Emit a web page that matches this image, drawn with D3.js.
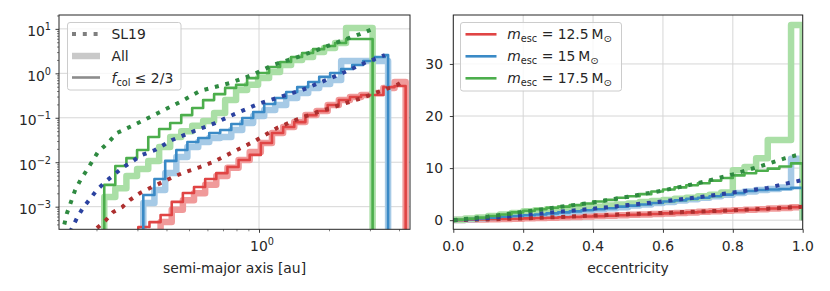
<!DOCTYPE html>
<html>
<head>
<meta charset="utf-8">
<script src="https://cdn.jsdelivr.net/npm/d3@7"></script>
<style>
  body { margin: 0; background: #fff; }
  text { font-family: "DejaVu Sans", sans-serif; fill: #262626; }
</style>
</head>
<body>
<svg id="chart" width="830" height="291"></svg>
<script>
// ---- semi-major axis histograms (left panel), bin edges in au ----
const greenEdges = [0.216, 0.241, 0.269, 0.299, 0.334, 0.372, 0.415, 0.463, 0.516, 0.575, 0.641, 0.715,
  0.797, 0.889, 0.991, 1.105, 1.232, 1.374, 1.532, 1.708, 1.905, 2.124, 2.368, 3.08];
const greenColA = [0.0031, 0.0082, 0.0124, 0.0188, 0.037, 0.056, 0.076, 0.115, 0.166, 0.25, 0.34, 0.47,
  0.55, 0.78, 1.02, 1.39, 1.8, 2.33, 2.86, 3.5, 4.1, 4.8, 5.9];
const greenAllA = [0.00165, 0.0026, 0.0049, 0.007, 0.0107, 0.022, 0.037, 0.05, 0.066, 0.085, 0.128, 0.25,
  0.42, 0.55, 0.78, 1.07, 1.54, 1.99, 2.33, 3.0, 3.7, 4.8, 10.4];

const blueEdges = [0.318, 0.355, 0.395, 0.441, 0.492, 0.548, 0.611, 0.681, 0.760, 0.847, 0.944, 1.053,
  1.174, 1.309, 1.460, 1.628, 1.815, 2.023, 2.256, 2.516, 2.805, 3.128, 3.487, 3.59];
const blueColA = [0.00183, 0.0042, 0.0107, 0.0188, 0.0285, 0.035, 0.0455, 0.053, 0.0724, 0.099, 0.135, 0.204,
  0.278, 0.38, 0.49, 0.64, 0.83, 1.02, 1.25, 1.54, 1.89, 2.33, 2.58];
const blueAllA = [0.00121, 0.00238, 0.0057, 0.0131, 0.022, 0.0285, 0.035, 0.037, 0.053, 0.076, 0.11, 0.15,
  0.194, 0.278, 0.36, 0.467, 0.574, 0.706, 1.9, 1.9, 1.9, 1.9, 1.9];

const redEdges = [0.3027, 0.338, 0.3774, 0.4214, 0.4705, 0.5254, 0.5867, 0.6551, 0.7315, 0.8168, 0.912, 1.0184,
  1.1371, 1.2697, 1.4178, 1.5831, 1.7677, 1.9739, 2.2041, 2.4611, 2.7481, 3.0686, 3.4265, 3.8261, 4.272];
const redColA = [0.00035, 0.00045, 0.00065, 0.00128, 0.00203, 0.00277, 0.0042, 0.0057, 0.0078, 0.0112, 0.0146, 0.0271,
  0.0455, 0.062, 0.08, 0.115, 0.142, 0.194, 0.251, 0.293, 0.325, 0.325, 0.49, 0.52];
const redAllA = [0.00023, 0.00027, 0.00045, 0.00085, 0.0014, 0.002, 0.0031, 0.0049, 0.0075, 0.0112, 0.017, 0.0271,
  0.0455, 0.062, 0.08, 0.115, 0.142, 0.194, 0.251, 0.293, 0.325, 0.36, 0.467, 0.64];

// SL19 curves, semi-major axis
const greenSlAu = [0.142, 0.149, 0.162, 0.1716, 0.182, 0.203, 0.224, 0.245, 0.296, 0.368, 0.457, 0.557, 0.75, 0.933, 1.149, 1.428, 1.776, 2.187, 2.717, 3.06];
const greenSlA = [0.00023, 0.00069, 0.00238, 0.0042, 0.0067, 0.017, 0.0271, 0.0455, 0.0724, 0.128, 0.226, 0.40, 0.605, 0.916, 1.54, 2.21, 3.34, 5.06, 7.65, 9.8];
const blueSlAu = [0.154, 0.165, 0.175, 0.201, 0.218, 0.258, 0.314, 0.357, 0.423, 0.515, 0.647, 0.788, 0.99, 1.231, 1.53, 1.885, 2.34, 2.91, 3.48];
const blueSlA = [0.00027, 0.00056, 0.00094, 0.00238, 0.0036, 0.0074, 0.0146, 0.0188, 0.0316, 0.0479, 0.076, 0.122, 0.204, 0.293, 0.42, 0.66, 1.07, 1.80, 2.58];
const redSlAu = [0.201, 0.218, 0.236, 0.258, 0.279, 0.308, 0.347, 0.386, 0.427, 0.481, 0.557, 0.634, 0.773, 0.961, 1.195, 1.47, 1.794, 2.23, 2.77, 3.42, 3.92, 4.25];
const redSlA = [0.00033, 0.00048, 0.00076, 0.00098, 0.00142, 0.00203, 0.00277, 0.0036, 0.00466, 0.006, 0.0078, 0.0101, 0.017, 0.0301, 0.0589, 0.0938, 0.135, 0.194, 0.278, 0.42, 0.545, 0.706];

// ---- eccentricity histograms (right panel) ----
const eccEdges = [0, 0.0333, 0.0667, 0.1, 0.1333, 0.1667, 0.2, 0.2333, 0.2667, 0.3, 0.3333, 0.3667, 0.4, 0.4333,
  0.4667, 0.5, 0.5333, 0.5667, 0.6, 0.6333, 0.6667, 0.7, 0.7333, 0.7667, 0.8, 0.8333, 0.8667, 0.9, 0.9333, 0.9667, 1];
const greenColE = [0.1, 0.3, 0.5, 0.8, 1.1, 1.5, 1.8, 2.1, 2.4, 2.6, 2.9, 3.2, 3.6, 3.9, 4.3, 4.6, 5.0, 5.5, 5.9, 6.3,
  6.7, 7.1, 7.6, 8.1, 8.6, 9.0, 9.5, 9.9, 10.3, 10.9];
const greenAllE = [0.1, 0.3, 0.5, 0.8, 1.1, 1.4, 1.7, 1.9, 2.1, 2.2, 2.4, 2.6, 2.6, 2.8, 3.0, 3.2, 3.5, 3.7, 3.9, 4.1,
  4.3, 4.6, 4.9, 5.3, 9.6, 10.2, 11.9, 15.4, 15.4, 37.5];
const blueColE = [0.05, 0.2, 0.35, 0.5, 0.65, 0.8, 0.95, 1.1, 1.3, 1.5, 1.7, 1.9, 2.1, 2.3, 2.6, 2.8, 3.0, 3.3, 3.6, 3.8,
  4.1, 4.3, 4.6, 4.9, 5.2, 5.6, 5.8, 5.9, 6.0, 6.2];
const blueAllE = [0.05, 0.2, 0.35, 0.5, 0.65, 0.8, 1.0, 1.15, 1.3, 1.5, 1.7, 1.9, 2.1, 2.3, 2.5, 2.8, 3.0, 3.3, 3.5, 3.8,
  4.0, 4.3, 4.6, 4.9, 5.2, 5.5, 5.8, 6.0, 6.3, 11.8];
const redColE = [0.02, 0.07, 0.12, 0.17, 0.23, 0.29, 0.35, 0.42, 0.48, 0.55, 0.62, 0.7, 0.78, 0.86, 0.94, 1.02, 1.1, 1.2,
  1.3, 1.4, 1.5, 1.6, 1.7, 1.8, 1.9, 2.0, 2.1, 2.25, 2.35, 2.5];
const redAllE = [0.02, 0.07, 0.12, 0.17, 0.23, 0.29, 0.35, 0.42, 0.48, 0.55, 0.62, 0.7, 0.78, 0.86, 0.94, 1.02, 1.1, 1.2,
  1.3, 1.4, 1.5, 1.6, 1.7, 1.8, 1.9, 2.0, 2.1, 2.25, 2.35, 2.5];

const slEcc = [0, 0.1, 0.2, 0.3, 0.4, 0.5, 0.6, 0.7, 0.8, 0.9, 0.95, 1.0];
const greenSlE = [0, 0.7, 1.6, 2.5, 3.4, 4.5, 5.7, 7.1, 8.8, 10.8, 11.9, 12.8];
const blueSlE = [0, 0.4, 1.0, 1.6, 2.2, 2.9, 3.6, 4.4, 5.3, 6.2, 7.0, 7.7];
const redSlE = [0, 0.15, 0.35, 0.6, 0.88, 1.15, 1.4, 1.65, 1.9, 2.2, 2.4, 2.6];

const yTicksA = [1e-3, 1e-2, 1e-1, 1, 10];
const xTicksE = [0, 0.2, 0.4, 0.6, 0.8, 1.0];
const yTicksE = [0, 10, 20, 30];
const massLabels = ["12.5", "15", "17.5"];

const colors = {
  red:   { thin: "#e04444", light: "#f09a9a", dot: "#ad2f2f" },
  blue:  { thin: "#3a8ac6", light: "#a6cae6", dot: "#2b42a0" },
  green: { thin: "#4cae4c", light: "#aadfa6", dot: "#2f8a41" }
};
const wThin = 2.6, wThick = 6.5, wDot = 4, dotDash = "4,6.8";

const svg = d3.select("#chart");
const pL = { x0: 59, x1: 410, y0: 15, y1: 229.3 };
const pR = { x0: 453.3, x1: 802.7, y0: 15, y1: 229.3 };

const xA = d3.scaleLog().domain([0.138, 4.46]).range([pL.x0, pL.x1]);
const yA = d3.scaleLog().domain([3.1e-4, 20.5]).range([pL.y1, pL.y0]);
const xE = d3.scaleLinear().domain([0, 1]).range([pR.x0, pR.x1]);
const yE = d3.scaleLinear().domain([-1.75, 39.4]).range([pR.y1, pR.y0]);

const defs = svg.append("defs");
defs.append("clipPath").attr("id", "clipL").append("rect")
  .attr("x", pL.x0).attr("y", pL.y0).attr("width", pL.x1 - pL.x0).attr("height", pL.y1 - pL.y0);
defs.append("clipPath").attr("id", "clipR").append("rect")
  .attr("x", pR.x0).attr("y", pR.y0).attr("width", pR.x1 - pR.x0).attr("height", pR.y1 - pR.y0);

function stepPoints(edges, vals) {
  const pts = [[edges[0], 0]];
  vals.forEach((v, i) => { pts.push([edges[i], v]); pts.push([edges[i + 1], v]); });
  pts.push([edges[edges.length - 1], 0]);
  return pts;
}

// ---------- grids ----------
const gridL = svg.append("g").attr("stroke", "#d6d6d6").attr("stroke-width", 1);
yTicksA.forEach(t => gridL.append("line").attr("x1", pL.x0).attr("x2", pL.x1)
  .attr("y1", yA(t)).attr("y2", yA(t)));
gridL.append("line").attr("x1", xA(1)).attr("x2", xA(1)).attr("y1", pL.y0).attr("y2", pL.y1);

const gridR = svg.append("g").attr("stroke", "#d6d6d6").attr("stroke-width", 1);
yTicksE.forEach(t => gridR.append("line").attr("x1", pR.x0).attr("x2", pR.x1)
  .attr("y1", yE(t)).attr("y2", yE(t)));
xTicksE.forEach(t => gridR.append("line").attr("x1", xE(t)).attr("x2", xE(t))
  .attr("y1", pR.y0).attr("y2", pR.y1));

// ---------- left panel lines ----------
const lineA = d3.line()
  .x(d => xA(d[0]))
  .y(d => d[1] > 0 ? yA(d[1]) : pL.y1 + 20);
const gA = svg.append("g").attr("clip-path", "url(#clipL)").attr("fill", "none");

const histA = [
  { c: colors.red, edges: redEdges, col: redColA, all: redAllA, slx: redSlAu, sly: redSlA },
  { c: colors.blue, edges: blueEdges, col: blueColA, all: blueAllA, slx: blueSlAu, sly: blueSlA },
  { c: colors.green, edges: greenEdges, col: greenColA, all: greenAllA, slx: greenSlAu, sly: greenSlA }
];
histA.forEach(h => {
  gA.append("path").attr("d", lineA(stepPoints(h.edges, h.all)))
    .attr("stroke", h.c.light).attr("stroke-width", wThick).attr("stroke-linejoin", "round");
});
histA.forEach(h => {
  gA.append("path").attr("d", lineA(stepPoints(h.edges, h.col)))
    .attr("stroke", h.c.thin).attr("stroke-width", wThin).attr("stroke-linejoin", "round");
});
histA.forEach(h => {
  gA.append("path").attr("d", lineA(h.slx.map((x, i) => [x, h.sly[i]])))
    .attr("stroke", h.c.dot).attr("stroke-width", wDot).attr("stroke-dasharray", dotDash);
});

// ---------- right panel lines ----------
const lineE = d3.line().x(d => xE(d[0])).y(d => yE(d[1]));
const gE = svg.append("g").attr("clip-path", "url(#clipR)").attr("fill", "none");
const histE = [
  { c: colors.red, col: redColE, all: redAllE, sl: redSlE },
  { c: colors.blue, col: blueColE, all: blueAllE, sl: blueSlE },
  { c: colors.green, col: greenColE, all: greenAllE, sl: greenSlE }
];
histE.forEach(h => {
  gE.append("path").attr("d", lineE(stepPoints(eccEdges, h.all)))
    .attr("stroke", h.c.light).attr("stroke-width", wThick).attr("stroke-linejoin", "round");
});
histE.forEach(h => {
  gE.append("path").attr("d", lineE(stepPoints(eccEdges, h.col)))
    .attr("stroke", h.c.thin).attr("stroke-width", wThin).attr("stroke-linejoin", "round");
});
histE.forEach(h => {
  gE.append("path").attr("d", lineE(slEcc.map((x, i) => [x, h.sl[i]])))
    .attr("stroke", h.c.dot).attr("stroke-width", wDot).attr("stroke-dasharray", dotDash);
});

// ---------- axes ----------
const axisCol = "#262626";
function styleAxis(g) {
  g.select(".domain").remove();
  g.selectAll(".tick line").attr("stroke", axisCol).attr("stroke-width", 0.9);
  g.selectAll(".tick text").remove();
}

// left: major + minor ticks
const minorY = [];
[-4, -3, -2, -1, 0, 1].forEach(d => { for (let k = 2; k <= 9; k++) minorY.push(k * Math.pow(10, d)); });
const minorYIn = minorY.filter(v => v >= 3.1e-4 && v <= 20.5);
const minorX = [0.2, 0.3, 0.4, 0.5, 0.6, 0.7, 0.8, 0.9, 2, 3, 4];

svg.append("g").attr("transform", `translate(${pL.x0},0)`)
  .call(d3.axisLeft(yA).tickValues(yTicksA).tickSize(3.5)).call(styleAxis);
svg.append("g").attr("transform", `translate(${pL.x0},0)`)
  .call(d3.axisLeft(yA).tickValues(minorYIn).tickSize(2)).call(styleAxis)
  .selectAll(".tick line").attr("stroke-width", 0.6);
svg.append("g").attr("transform", `translate(0,${pL.y1})`)
  .call(d3.axisBottom(xA).tickValues([1]).tickSize(3.5)).call(styleAxis);
svg.append("g").attr("transform", `translate(0,${pL.y1})`)
  .call(d3.axisBottom(xA).tickValues(minorX).tickSize(2)).call(styleAxis)
  .selectAll(".tick line").attr("stroke-width", 0.6);

// right
svg.append("g").attr("transform", `translate(${pR.x0},0)`)
  .call(d3.axisLeft(yE).tickValues(yTicksE).tickSize(3.5)).call(styleAxis);
svg.append("g").attr("transform", `translate(0,${pR.y1})`)
  .call(d3.axisBottom(xE).tickValues(xTicksE).tickSize(3.5)).call(styleAxis);

// tick labels
const fs = 13.9;
function powLabel(x, y, exp, anchor) {
  const t = svg.append("text").attr("x", x).attr("y", y).attr("font-size", fs).attr("text-anchor", anchor);
  t.append("tspan").text("10");
  t.append("tspan").attr("font-size", fs * 0.7).attr("dy", -6).text(exp);
  return t;
}
yTicksA.forEach(t => {
  const e = Math.round(Math.log10(t));
  powLabel(51, yA(t) + 7.5, e < 0 ? "\u2212" + (-e) : String(e), "end");
});
powLabel(xA(1) + 3, pL.y1 + 22, "0", "middle");

yTicksE.forEach(t => svg.append("text").attr("x", 443).attr("y", yE(t) + 5)
  .attr("font-size", fs).attr("text-anchor", "end").text(t));
xTicksE.forEach(t => svg.append("text").attr("x", xE(t)).attr("y", pR.y1 + 21.5)
  .attr("font-size", fs).attr("text-anchor", "middle").text(t.toFixed(1)));

svg.append("text").attr("x", (pL.x0 + pL.x1) / 2).attr("y", 273).attr("font-size", fs)
  .attr("text-anchor", "middle").text("semi-major axis [au]");
svg.append("text").attr("x", (pR.x0 + pR.x1) / 2).attr("y", 273).attr("font-size", fs)
  .attr("text-anchor", "middle").text("eccentricity");

// spines
[pL, pR].forEach(p => svg.append("rect").attr("x", p.x0).attr("y", p.y0)
  .attr("width", p.x1 - p.x0).attr("height", p.y1 - p.y0)
  .attr("fill", "none").attr("stroke", axisCol).attr("stroke-width", 1));

// ---------- legends ----------
const legL = svg.append("g");
legL.append("rect").attr("x", 67.5).attr("y", 22.5).attr("width", 113.5).attr("height", 67.5)
  .attr("rx", 2.5).attr("fill", "#fff").attr("fill-opacity", 0.8).attr("stroke", "#cccccc");
const legLRows = [
  { y: 34, stroke: "#7f7f7f", w: wDot, dash: dotDash, label: "SL19" },
  { y: 56, stroke: "#c9c9c9", w: wThick, dash: null, label: "All" },
  { y: 77.5, stroke: "#8c8c8c", w: wThin, dash: null, label: "fcol" }
];
legLRows.forEach(r => {
  legL.append("line").attr("x1", 72).attr("x2", 100).attr("y1", r.y).attr("y2", r.y)
    .attr("stroke", r.stroke).attr("stroke-width", r.w).attr("stroke-dasharray", r.dash);
  const t = legL.append("text").attr("x", 111.5).attr("y", r.y + 5).attr("font-size", fs);
  if (r.label === "fcol") {
    t.append("tspan").attr("font-style", "italic").text("f");
    t.append("tspan").attr("font-size", fs * 0.7).attr("dy", 3).text("col");
    t.append("tspan").attr("dy", -3).text(" \u2264 2/3");
  } else {
    t.text(r.label);
  }
});

const legR = svg.append("g");
legR.append("rect").attr("x", 460.5).attr("y", 22.5).attr("width", 161).attr("height", 68.5)
  .attr("rx", 2.5).attr("fill", "#fff").attr("fill-opacity", 0.8).attr("stroke", "#cccccc");
const legRColors = [colors.red.thin, colors.blue.thin, colors.green.thin];
massLabels.forEach((m, i) => {
  const y = 34.3 + i * 22;
  legR.append("line").attr("x1", 465.5).attr("x2", 496.5).attr("y1", y).attr("y2", y)
    .attr("stroke", legRColors[i]).attr("stroke-width", 2.6);
  const t = legR.append("text").attr("x", 507.3).attr("y", y + 5).attr("font-size", fs);
  t.append("tspan").attr("font-style", "italic").text("m");
  t.append("tspan").attr("font-size", fs * 0.7).attr("dy", 3).text("esc");
  t.append("tspan").attr("dy", -3).text(" = " + m + "\u2009M");
  t.append("tspan").attr("font-size", fs * 0.7).attr("dy", 3).text("\u2299");
});
</script>
</body>
</html>
